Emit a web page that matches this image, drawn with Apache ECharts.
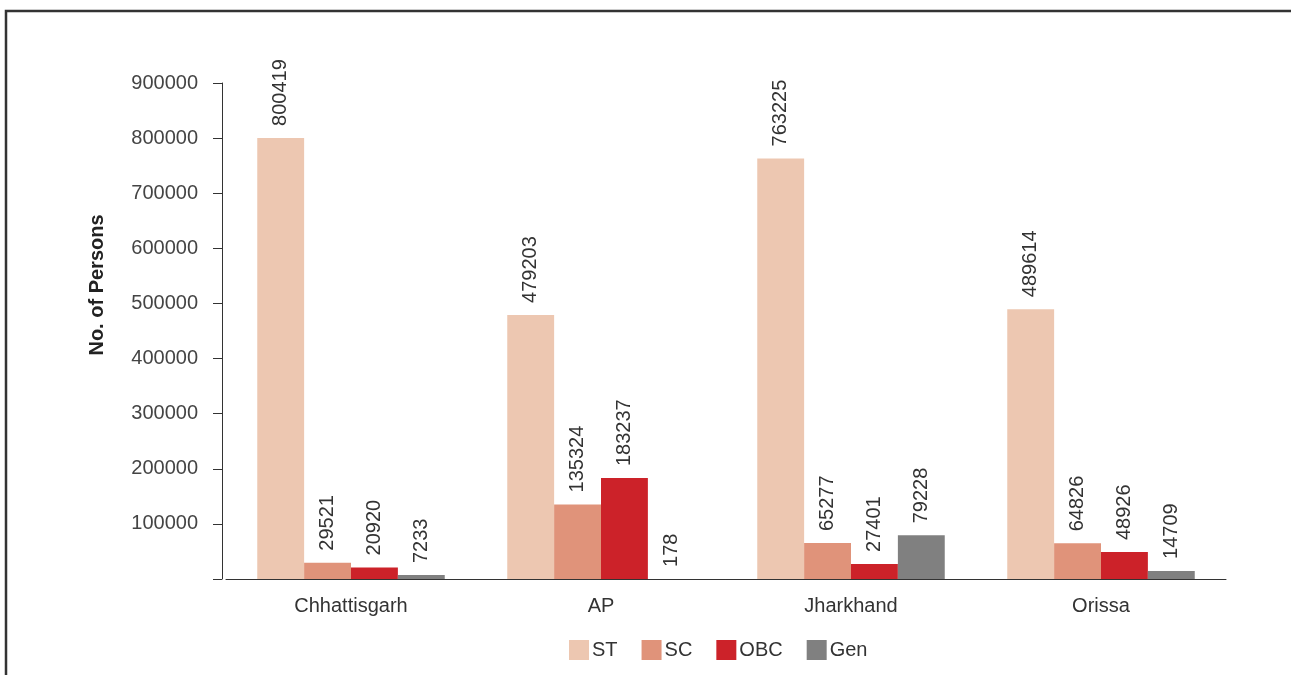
<!DOCTYPE html>
<html><head><meta charset="utf-8">
<script src="https://cdn.jsdelivr.net/npm/echarts@6/dist/echarts.min.js"></script>
<style>html,body{margin:0;padding:0;background:#fff}#c{width:1291px;height:675px}</style>
</head><body><div id="c"></div>
<script>
const categories = ['Chhattisgarh', 'AP', 'Jharkhand', 'Orissa'];
const seriesNames = ['ST', 'SC', 'OBC', 'Gen'];
const stValues = [800419, 479203, 763225, 489614];
const scValues = [29521, 135324, 65277, 64826];
const obcValues = [20920, 183237, 27401, 48926];
const genValues = [7233, 178, 79228, 14709];
const colors = ['#EDC7B1', '#E0937A', '#CC2229', '#808080'];
const yTicks = [0, 100000, 200000, 300000, 400000, 500000, 600000, 700000, 800000, 900000];
const yTitle = 'No. of Persons';

const data = [stValues, scValues, obcValues, genValues];
const font = 'Liberation Sans, Arial, sans-serif';
const chart = echarts.init(document.getElementById('c'));
chart.setOption({
  animation: false,
  graphic: [
    {type: 'rect', shape: {x: 6, y: 11, width: 1400, height: 800}, style: {fill: 'none', stroke: '#333', lineWidth: 2.5}, silent: true},
    {type: 'text', x: 97, y: 285, rotation: Math.PI / 2,
      style: {text: yTitle, fontSize: 20, fontWeight: 'bold', fill: '#222', fontFamily: font, align: 'center', verticalAlign: 'middle'}}
  ],
  grid: {left: 226, right: 65, top: 83, bottom: 96},
  legend: {
    data: seriesNames, top: 635, left: 564, itemWidth: 20, itemHeight: 20, itemGap: 24,
    icon: 'rect', textStyle: {fontSize: 20, color: '#333', fontFamily: font, padding: [3,0,0,-2]}
  },
  xAxis: {
    type: 'category', data: categories,
    axisLine: {lineStyle: {color: '#333', width: 1}}, axisTick: {show: false},
    axisLabel: {fontSize: 20, color: '#333', fontFamily: font, margin: 17}
  },
  yAxis: {
    type: 'value', min: yTicks[0], max: yTicks[yTicks.length-1], interval: 100000, offset: 4,
    axisLine: {show: true, lineStyle: {color: '#333'}},
    axisTick: {show: true, length: 9, lineStyle: {color: '#333'}},
    splitLine: {show: false},
    axisLabel: {fontSize: 20, color: '#444', fontFamily: font, margin: 24, showMinLabel: true,
      formatter: v => v === 0 ? '' : String(v)}
  },
  series: seriesNames.map((n, i) => ({
    name: n, type: 'bar', data: data[i], barGap: '0%', barCategoryGap: '25%',
    itemStyle: {color: colors[i]},
    label: {show: true, position: 'top', rotate: 90, align: 'left', verticalAlign: 'middle', distance: 12,
      fontSize: 20, color: '#333', fontFamily: font}
  }))
});
</script></body></html>
